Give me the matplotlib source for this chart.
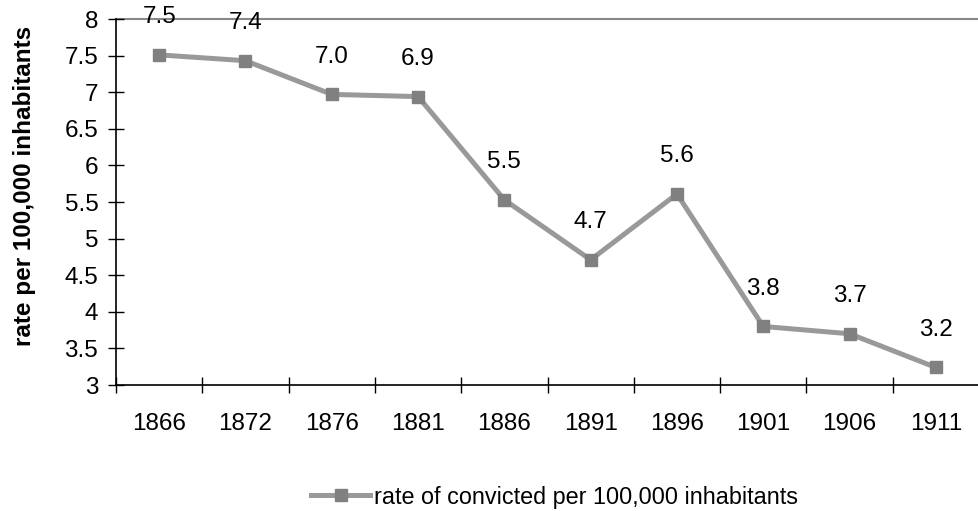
import matplotlib
matplotlib.use("Agg")
import matplotlib.pyplot as plt
import numpy as np

plt.rcParams['font.family'] = ['Liberation Sans', 'DejaVu Sans']

years = ['1866', '1872', '1876', '1881', '1886', '1891', '1896', '1901', '1906', '1911']
rates = [7.51, 7.43, 6.97, 6.94, 5.53, 4.71, 5.61, 3.80, 3.70, 3.24]
series_name = 'rate of convicted per 100,000 inhabitants'
y_title = 'rate per 100,000 inhabitants'

fs = 17.5

fig = plt.figure(figsize=(9.79, 5.11), dpi=100)
ax = fig.add_axes([116/979, 1 - 385/511, 1 - 116/979, (385 - 19)/511])

x = np.arange(len(years))
line, = ax.plot(x, rates, color='#999999', lw=3.6, marker='s', ms=8,
                mfc='#808080', mec='#808080', label=series_name)

for xi, v in zip(x, rates):
    ax.annotate('%.1f' % v, (xi, v), xytext=(0, 27), textcoords='offset points',
                ha='center', va='center', fontsize=fs, color='black')

ax.set_xlim(-0.5, len(years) - 0.5)
ax.set_ylim(3, 8)
ax.set_yticks(np.arange(3, 8.01, 0.5))
ax.set_yticklabels(['%g' % t for t in np.arange(3, 8.01, 0.5)])
ax.set_xticks(x)
ax.set_xticklabels(years)
ax.set_xticks(np.arange(-0.5, len(years) - 0.5, 1), minor=True)

ax.tick_params(axis='x', which='major', length=0, pad=20, labelsize=fs)
ax.tick_params(axis='x', which='minor', direction='inout', length=11.5, width=1)
ax.tick_params(axis='y', direction='inout', length=11.5, width=1, pad=7, labelsize=fs)

ax.spines['right'].set_visible(False)
ax.spines['top'].set_color('#888888')
ax.spines['top'].set_linewidth(1.5)
ax.spines['left'].set_linewidth(1.2)
ax.spines['bottom'].set_linewidth(1.2)
ax.spines['top'].set_zorder(0)

fig.text(25/979, 1 - 186/511, y_title, rotation=90, ha='center', va='center',
         fontsize=fs, fontweight='bold')

fig.legend(handles=[line], loc='center', bbox_to_anchor=(555/979, 1 - 497/511),
           frameon=False, fontsize=16.8, handlelength=2.5, handletextpad=0.2)

fig.savefig('out.png', dpi=100)
